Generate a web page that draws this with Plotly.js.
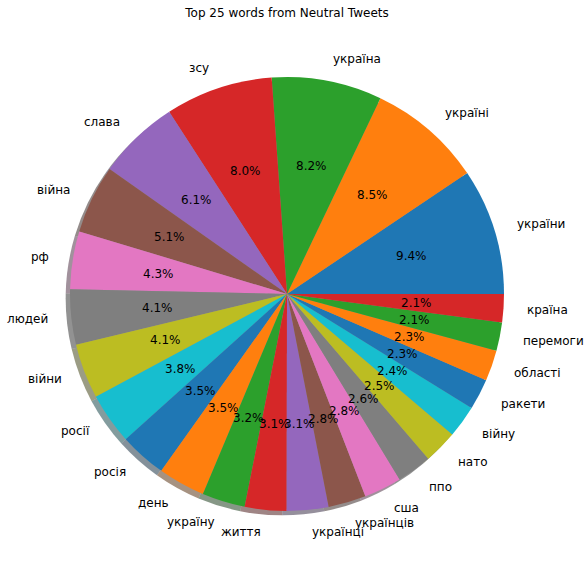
<!DOCTYPE html>
<html>
<head>
<meta charset="utf-8">
<script src="https://cdn.plot.ly/plotly-3.0.1.min.js"></script>
<style>body{margin:0}#plot{width:588px;height:574px}</style>
</head>
<body>
<div id="plot"></div>
<script>
// Words and their share (%), counter-clockwise from 3 o'clock
let words = ["україни", "україні", "україна", "зсу", "слава", "війна", "рф", "людей", "війни", "росії",
  "росія", "день", "україну", "життя", "українці", "українців", "сша", "ппо", "нато", "війну",
  "ракети", "області", "перемоги", "країна"]
let shares = [9.4, 8.5, 8.2, 8.0, 6.1, 5.1, 4.3, 4.1, 4.1, 3.8, 3.5, 3.5, 3.2, 3.1, 3.1, 2.8, 2.8,
  2.6, 2.5, 2.4, 2.3, 2.3, 2.1, 2.1]
let palette = ["#1f77b4", "#ff7f0e", "#2ca02c", "#d62728", "#9467bd",
  "#8c564b", "#e377c2", "#7f7f7f", "#bcbd22", "#17becf"]

// Page geometry: pie centre and radius in pixels
let W = 588, H = 574
let cx = 287, cy = 294, R = 217
let off = 0.02 * R  // shadow offset (left and down)

let total = shares.reduce((a, b) => a + b, 0)
let colors = shares.map((v, i) => palette[i % palette.length])

// Shadow colour = 0.3 * slice colour, half transparent
let shadowColors = colors.map(c => {
  let r = parseInt(c.slice(1, 3), 16), g = parseInt(c.slice(3, 5), 16), b = parseInt(c.slice(5, 7), 16)
  return "rgba(" + Math.round(r * 0.3) + "," + Math.round(g * 0.3) + "," + Math.round(b * 0.3) + ",0.5)"
})

// Plotly puts the end of the first slice at 'rotation' when going counter-clockwise
let rotation = 90 - 360 * shares[0] / total

let pieDomain = {
  x: [(cx - R) / W, (cx + R) / W],
  y: [(H - cy - R) / H, (H - cy + R) / H]
}
let shadowDomain = {
  x: [(cx - R - off) / W, (cx + R - off) / W],
  y: [(H - cy - R - off) / H, (H - cy + R - off) / H]
}

let shadow = {
  type: "pie",
  values: shares,
  labels: words,
  sort: false,
  direction: "counterclockwise",
  rotation: rotation,
  domain: shadowDomain,
  marker: {colors: shadowColors, line: {width: 0}},
  textinfo: "none",
  hoverinfo: "skip",
  showlegend: false
}

let pie = {
  type: "pie",
  values: shares,
  labels: words,
  sort: false,
  direction: "counterclockwise",
  rotation: rotation,
  domain: pieDomain,
  marker: {colors: colors, line: {width: 0}},
  textinfo: "none",
  hoverinfo: "label+percent",
  showlegend: false
}

// empty trace so the hidden x/y axes exist for the text positions
let anchor = {type: "scatter", x: [], y: [], hoverinfo: "skip", showlegend: false}

// Labels at 1.1 radius, percentages at 0.6 radius (like matplotlib)
let font = {family: "DejaVu Sans", size: 12, color: "#000"}
let annotations = []
let cum = 0
for (let i = 0; i < shares.length; i++) {
  let mid = (cum + shares[i] / 2) / total * 2 * Math.PI
  cum += shares[i]
  let ux = Math.cos(mid), uy = Math.sin(mid)
  annotations.push({
    x: 0.6 * ux, y: 0.6 * uy, xref: "x", yref: "y",
    text: (shares[i] / total * 100).toFixed(1) + "%",
    showarrow: false, xanchor: "center", yanchor: "middle", font: font
  })
  annotations.push({
    x: 1.1 * ux, y: 1.1 * uy, xref: "x", yref: "y",
    text: words[i],
    showarrow: false, xanchor: ux > 0 ? "left" : "right", yanchor: "middle", font: font
  })
}

let hidden = {showgrid: false, zeroline: false, showticklabels: false, showline: false, ticks: "", fixedrange: true}

let layout = {
  width: W,
  height: H,
  margin: {l: 0, r: 0, t: 0, b: 0},
  paper_bgcolor: "#fff",
  plot_bgcolor: "rgba(0,0,0,0)",
  font: font,
  title: {
    text: "Top 25 words from Neutral Tweets",
    x: cx / W, xanchor: "center",
    y: 1 - 13 / H, yanchor: "middle",
    font: font
  },
  xaxis: Object.assign({range: [-cx / R, (W - cx) / R], domain: [0, 1]}, hidden),
  yaxis: Object.assign({range: [-(H - cy) / R, cy / R], domain: [0, 1]}, hidden),
  annotations: annotations,
  showlegend: false
}

Plotly.newPlot("plot", [shadow, pie, anchor], layout, {displayModeBar: false})
</script>
</body>
</html>
